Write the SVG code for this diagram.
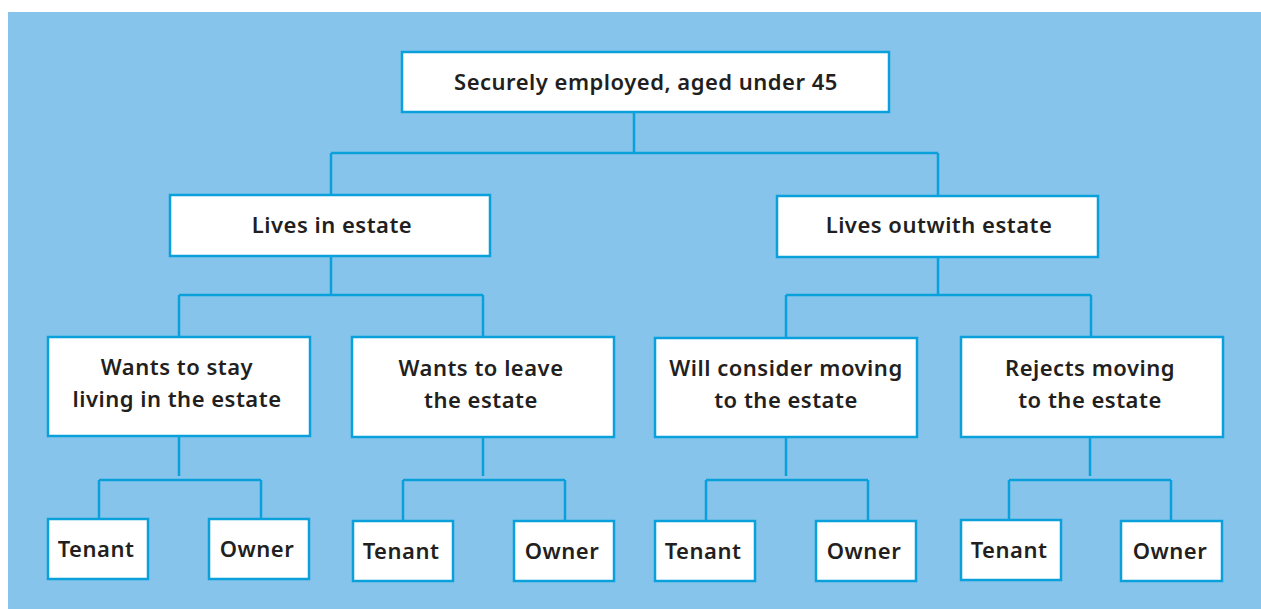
<svg xmlns="http://www.w3.org/2000/svg" width="1261" height="609" viewBox="0 0 1261 609">
<style>
.bg{fill:#87c4eb}
.box{fill:#ffffff;stroke:#0aa0dc;stroke-width:2.5}
.ln{fill:none;stroke:#0aa0dc;stroke-width:2.5}
text{font-family:"Noto Sans","Open Sans",sans-serif;font-weight:600;font-size:22px;letter-spacing:0.5px;fill:#231f20;text-anchor:middle}
</style>
<rect width="1261" height="609" fill="#ffffff"/>
<rect class="bg" x="8" y="12" width="1253" height="597"/>
<g id="connectors">
<path class="ln" d="M634,112 V153 M331,153 H938 M331,153 V195 M938,153 V196"/>
<path class="ln" d="M331,256 V295 M179,295 H483 M179,295 V337 M483,295 V337"/>
<path class="ln" d="M938,257 V295 M786,295 H1091 M786,295 V338 M1091,295 V337"/>
<path class="ln" d="M179,436 V476 M99,480 H261 M99,480 V519 M261,480 V519"/>
<path class="ln" d="M483,437 V476 M403,480 H565 M403,480 V521 M565,480 V521"/>
<path class="ln" d="M786,437 V476 M706,480 H868 M706,480 V521 M868,480 V521"/>
<path class="ln" d="M1090,437 V476 M1009,480 H1171 M1009,480 V521 M1171,480 V521"/>
</g>
<g id="root"><rect class="box" x="402" y="52" width="487" height="60"/><text x="646" y="90">Securely employed, aged under 45</text></g>
<g id="lives-in"><rect class="box" x="170" y="195" width="320" height="61"/><text x="332" y="233">Lives in estate</text></g>
<g id="lives-out"><rect class="box" x="777" y="196" width="321" height="61"/><text x="939" y="233">Lives outwith estate</text></g>
<g id="stay"><rect class="box" x="48" y="337" width="262" height="99"/><text x="177" y="375">Wants to stay</text><text x="177" y="407">living in the estate</text></g>
<g id="leave"><rect class="box" x="352" y="337" width="262" height="100"/><text x="481" y="376">Wants to leave</text><text x="481" y="408">the estate</text></g>
<g id="consider"><rect class="box" x="655" y="338" width="262" height="99"/><text x="786" y="376">Will consider moving</text><text x="786" y="408">to the estate</text></g>
<g id="rejects"><rect class="box" x="961" y="337" width="262" height="100"/><text x="1090" y="376">Rejects moving</text><text x="1090" y="408">to the estate</text></g>
<g id="t1"><rect class="box" x="48" y="519" width="100" height="60"/><text x="96" y="557">Tenant</text></g>
<g id="o1"><rect class="box" x="209" y="519" width="100" height="60"/><text x="257" y="557">Owner</text></g>
<g id="t2"><rect class="box" x="353" y="521" width="100" height="60"/><text x="401" y="559">Tenant</text></g>
<g id="o2"><rect class="box" x="514" y="521" width="100" height="60"/><text x="562" y="559">Owner</text></g>
<g id="t3"><rect class="box" x="655" y="521" width="100" height="60"/><text x="703" y="559">Tenant</text></g>
<g id="o3"><rect class="box" x="816" y="521" width="100" height="60"/><text x="864" y="559">Owner</text></g>
<g id="t4"><rect class="box" x="961" y="520" width="100" height="60"/><text x="1009" y="558">Tenant</text></g>
<g id="o4"><rect class="box" x="1121" y="521" width="101" height="60"/><text x="1170" y="559">Owner</text></g>
</svg>
